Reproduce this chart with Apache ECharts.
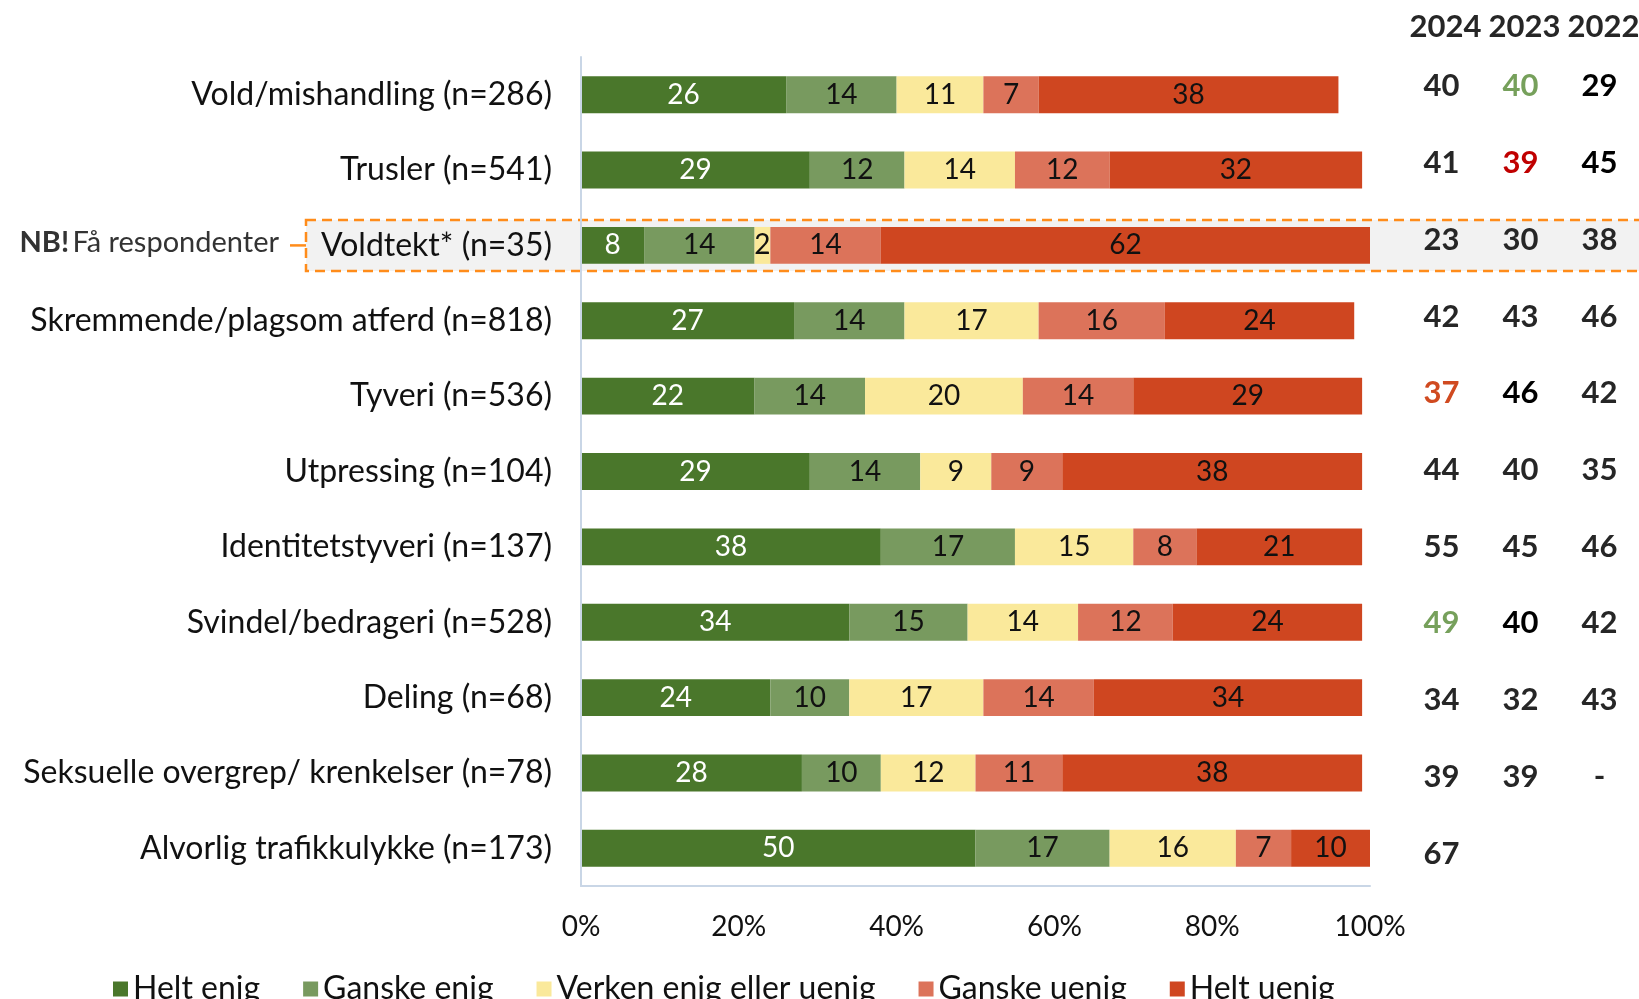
<!DOCTYPE html>
<html>
<head>
<meta charset="utf-8">
<script src="https://cdn.jsdelivr.net/npm/echarts@6/dist/echarts.min.js"></script>
<style>
html,body{margin:0;padding:0;background:#fff;}
#chart{width:1639px;height:999px;}
</style>
</head>
<body>
<div id="chart"></div>
<script>
const categories = [
  'Vold/mishandling (n=286)',
  'Trusler (n=541)',
  'Voldtekt* (n=35)',
  'Skremmende/plagsom atferd (n=818)',
  'Tyveri (n=536)',
  'Utpressing (n=104)',
  'Identitetstyveri (n=137)',
  'Svindel/bedrageri (n=528)',
  'Deling (n=68)',
  'Seksuelle overgrep/ krenkelser (n=78)',
  'Alvorlig trafikkulykke (n=173)'
];
const seriesNames = ['Helt enig', 'Ganske enig', 'Verken enig eller uenig', 'Ganske uenig', 'Helt uenig'];
const heltEnig    = [26, 29,  8, 27, 22, 29, 38, 34, 24, 28, 50];
const ganskeEnig  = [14, 12, 14, 14, 14, 14, 17, 15, 10, 10, 17];
const verken      = [11, 14,  2, 17, 20,  9, 15, 14, 17, 12, 16];
const ganskeUenig = [ 7, 12, 14, 16, 14,  9,  8, 12, 14, 11,  7];
const heltUenig   = [38, 32, 62, 24, 29, 38, 21, 24, 34, 38, 10];

const years = ['2024', '2023', '2022'];
const y2024 = ['40', '41', '23', '42', '37', '44', '55', '49', '34', '39', '67'];
const y2023 = ['40', '39', '30', '43', '46', '40', '45', '40', '32', '39', ''];
const y2022 = ['29', '45', '38', '46', '42', '35', '46', '42', '43', '-', ''];
// style codes: n = normal dark grey, k = black, g = green, r = red, o = orange-red
const s2024 = ['n', 'n', 'n', 'n', 'o', 'n', 'n', 'g', 'n', 'n', 'n'];
const s2023 = ['g', 'r', 'n', 'n', 'k', 'n', 'n', 'k', 'n', 'n', 'n'];
const s2022 = ['k', 'k', 'n', 'n', 'n', 'n', 'n', 'n', 'n', 'n', 'n'];
const xTicks = [0, 20, 40, 60, 80, 100];
const fewRespondentsIndex = 2;

const colors = ['#4a772b', '#789a5f', '#fae99b', '#dc735a', '#cf4620'];
const FONT = 'Lato';
const seriesData = [heltEnig, ganskeEnig, verken, ganskeUenig, heltUenig];

const cellBase = {width: 79, align: 'center', fontSize: 31, fontWeight: 'bold', fontFamily: FONT};
const rich = {
  n: Object.assign({}, cellBase, {color: '#262626'}),
  k: Object.assign({}, cellBase, {color: '#000000'}),
  g: Object.assign({}, cellBase, {color: '#76a05b'}),
  r: Object.assign({}, cellBase, {color: '#c00000'}),
  o: Object.assign({}, cellBase, {color: '#d04a20'})
};
function cell(style, txt) { return '{' + style + '|' + (txt === '' ? ' ' : txt) + '}'; }

const chart = echarts.init(document.getElementById('chart'), null, {renderer: 'canvas'});

const series = seriesNames.map((name, i) => ({
  name: name,
  type: 'bar',
  stack: 'total',
  barWidth: '49%',
  data: seriesData[i],
  itemStyle: {color: colors[i]},
  z: 3,
  label: {
    show: true,
    position: 'inside',
    fontFamily: FONT,
    fontSize: 28,
    color: i === 0 ? '#ffffff' : '#111111'
  }
}));

const option = {
  animation: false,
  backgroundColor: '#ffffff',
  textStyle: {fontFamily: FONT},
  title: {
    text: years.map(y => '{h|' + y + '}').join(''),
    left: 1401,
    top: 6,
    textStyle: {
      rich: {h: {width: 79, align: 'center', fontSize: 31, fontWeight: 'bold', fontFamily: FONT, color: '#262626'}}
    }
  },
  legend: {
    data: seriesNames,
    left: 108,
    top: 968,
    icon: 'rect',
    itemWidth: 15,
    itemHeight: 15,
    itemGap: 43,
    textStyle: {fontFamily: FONT, fontSize: 32, color: '#111111'}
  },
  grid: [
    {left: 581, right: 269, top: 57, bottom: 113, containLabel: false},
    {left: 581, right: 269, top: 48, bottom: 107, containLabel: false}
  ],
  xAxis: [
    {
      type: 'value',
      gridIndex: 0,
      min: 0,
      max: 100,
      interval: 20,
      axisLine: {show: true, lineStyle: {color: '#c9d6e6', width: 2}},
      axisTick: {show: false},
      splitLine: {show: false},
      axisLabel: {
        fontFamily: FONT, fontSize: 28, color: '#111111', margin: 27,
        formatter: v => (xTicks.indexOf(v) >= 0 ? v + '%' : '')
      }
    },
    {
      type: 'value',
      gridIndex: 1,
      min: 0,
      max: 100,
      show: false
    }
  ],
  yAxis: [
    {
      type: 'category',
      gridIndex: 0,
      inverse: true,
      data: categories,
      z: 5,
      axisLine: {show: true, lineStyle: {color: '#c9d6e6', width: 2}},
      axisTick: {show: false},
      axisLabel: {fontFamily: FONT, fontSize: 32, color: '#111111', margin: 29}
    },
    {
      type: 'category',
      gridIndex: 1,
      inverse: true,
      position: 'right',
      data: categories,
      axisLine: {show: false},
      axisTick: {show: false},
      splitLine: {show: false},
      axisLabel: {
        margin: 32,
        align: 'left',
        formatter: (v, idx) => cell(s2024[idx], y2024[idx]) + cell(s2023[idx], y2023[idx]) + cell(s2022[idx], y2022[idx]),
        rich: rich
      }
    }
  ],
  series: series
};
chart.setOption(option);

// annotation box around the "few respondents" row
const cy = chart.convertToPixel({yAxisIndex: 0}, categories[fewRespondentsIndex]);
chart.setOption({
  graphic: {
    elements: [
      {
        type: 'rect',
        z: -10,
        shape: {x: 306, y: cy - 25.5, width: 1400, height: 51},
        style: {fill: '#f2f2f2', stroke: '#ff8c1a', lineWidth: 2.5, lineDash: [10, 6]}
      },
      {
        type: 'line',
        z: -5,
        shape: {x1: 290, y1: cy, x2: 306, y2: cy},
        style: {stroke: '#ff8c1a', lineWidth: 2.5}
      },
      {
        type: 'text',
        z: 10,
        x: 279,
        y: cy - 3,
        style: {
          text: '{b|NB!} {t|Få respondenter}',
          align: 'right',
          verticalAlign: 'middle',
          rich: {
            b: {fontFamily: FONT, fontSize: 29, fontWeight: 'bold', fill: '#333333'},
            t: {fontFamily: FONT, fontSize: 29, fill: '#333333'}
          }
        }
      }
    ]
  }
});
</script>
</body>
</html>
